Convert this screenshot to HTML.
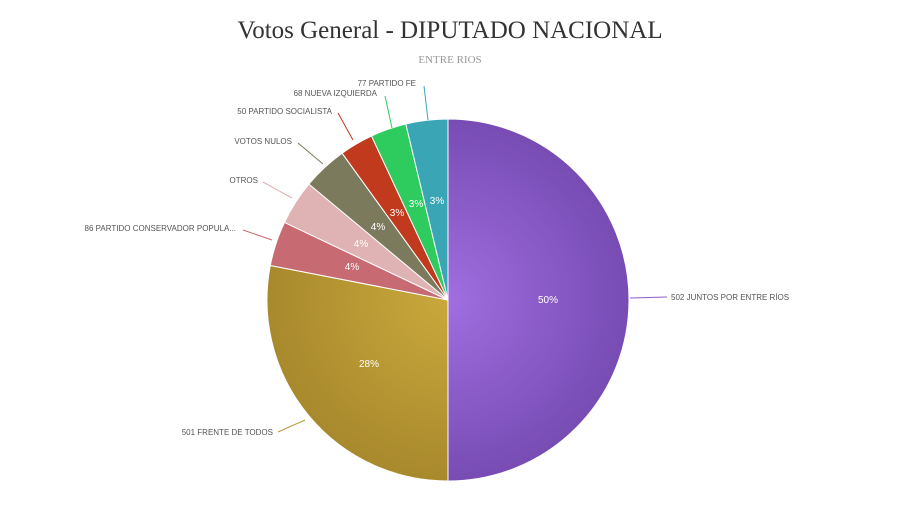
<!DOCTYPE html>
<html><head><meta charset="utf-8"><style>
html,body{margin:0;padding:0;background:#fff;}
svg{display:block;}
</style></head><body>
<svg width="900" height="507" viewBox="0 0 900 507" xmlns="http://www.w3.org/2000/svg">
<defs>
<radialGradient id="gp" cx="448" cy="300" r="181" gradientUnits="userSpaceOnUse"><stop offset="0" stop-color="#a06ee0"/><stop offset="1" stop-color="#774cb3"/></radialGradient>
<radialGradient id="gg" cx="448" cy="300" r="181" gradientUnits="userSpaceOnUse"><stop offset="0" stop-color="#c9a93c"/><stop offset="1" stop-color="#a8892c"/></radialGradient>
</defs>
<rect width="900" height="507" fill="#fff"/>
<text x="450" y="38" text-anchor="middle" font-family="Liberation Serif, serif" font-size="25" fill="#333">Votos General - DIPUTADO NACIONAL</text>
<text x="450" y="63" text-anchor="middle" font-family="Liberation Serif, serif" font-size="11" fill="#999">ENTRE RIOS</text>
<g stroke="#fff" stroke-width="1">
<path d="M448,300 L448,119 A181,181 0 0 1 448,481 Z" fill="url(#gp)"/>
<path d="M448,300 L448,481 A181,181 0 0 1 270.3,265.5 Z" fill="url(#gg)"/>
<path d="M448,300 L270.3,265.5 A181,181 0 0 1 284.5,222.4 Z" fill="#c76a72"/>
<path d="M448,300 L284.5,222.4 A181,181 0 0 1 308.9,184.1 Z" fill="#dfb3b3"/>
<path d="M448,300 L308.9,184.1 A181,181 0 0 1 342.1,153.2 Z" fill="#7c7a5d"/>
<path d="M448,300 L342.1,153.2 A181,181 0 0 1 371.5,136 Z" fill="#c23a1e"/>
<path d="M448,300 L371.5,136 A181,181 0 0 1 405.8,124 Z" fill="#2ecc5f"/>
<path d="M448,300 L405.8,124 A181,181 0 0 1 448,119 Z" fill="#3aa6b5"/>
</g>
<g font-family="Liberation Sans, sans-serif" font-size="10" fill="#fff" text-anchor="middle">
<text x="548" y="303">50%</text>
<text x="369" y="367">28%</text>
<text x="352" y="270">4%</text>
<text x="361" y="247">4%</text>
<text x="378" y="230">4%</text>
<text x="397" y="216">3%</text>
<text x="416" y="207">3%</text>
<text x="437" y="204">3%</text>
</g>
<g fill="none" stroke-width="1">
<line x1="630" y1="298" x2="667" y2="297" stroke="#8a5cc8"/>
<line x1="278" y1="432" x2="305" y2="420" stroke="#b79a36"/>
<line x1="243" y1="230" x2="272" y2="240" stroke="#c76a72"/>
<line x1="263" y1="182" x2="292" y2="198" stroke="#dfb3b3"/>
<line x1="298" y1="143" x2="323" y2="164" stroke="#7c7a5d"/>
<line x1="338" y1="113" x2="353" y2="140" stroke="#c23a1e"/>
<line x1="385" y1="96" x2="392" y2="128" stroke="#2ecc5f"/>
<line x1="424" y1="86" x2="428" y2="120" stroke="#3aa6b5"/>
</g>
<g font-family="Liberation Sans, sans-serif" font-size="8" fill="#555">
<text x="671" y="300">502 JUNTOS POR ENTRE RÍOS</text>
<text x="273" y="435" text-anchor="end">501 FRENTE DE TODOS</text>
<text x="236" y="231" text-anchor="end">86 PARTIDO CONSERVADOR POPULA...</text>
<text x="258" y="183" text-anchor="end">OTROS</text>
<text x="292" y="144" text-anchor="end">VOTOS NULOS</text>
<text x="332" y="114" text-anchor="end">50 PARTIDO SOCIALISTA</text>
<text x="377" y="96" text-anchor="end">68 NUEVA IZQUIERDA</text>
<text x="416" y="86" text-anchor="end">77 PARTIDO FE</text>
</g>
</svg>
</body></html>
